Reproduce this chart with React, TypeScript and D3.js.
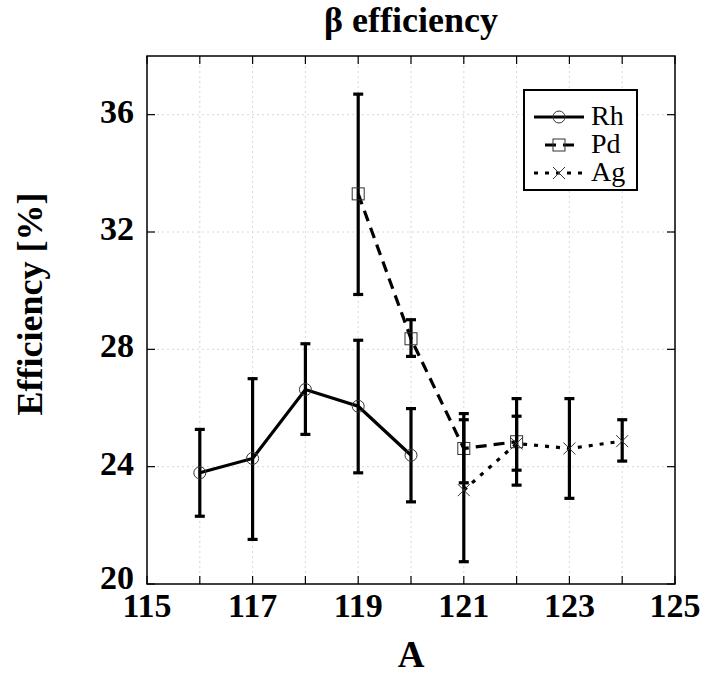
import React from "react";
import { scaleLinear, line } from "d3";

// mass numbers and efficiencies (%) with lower / upper error bar ends
const rhA = [116, 117, 118, 119, 120];
const rhEff = [23.79, 24.28, 26.63, 26.06, 24.39];
const rhLo = [22.31, 21.52, 25.1, 23.79, 22.8];
const rhHi = [25.27, 27.0, 28.19, 28.31, 25.98];

const pdA = [119, 120, 121, 122];
const pdEff = [33.3, 28.36, 24.62, 24.85];
const pdLo = [29.87, 27.76, 23.45, 23.88];
const pdHi = [36.7, 29.01, 25.81, 25.72];

const agA = [121, 122, 123, 124];
const agEff = [23.2, 24.79, 24.62, 24.87];
const agLo = [20.76, 23.37, 22.92, 24.19];
const agHi = [25.6, 26.32, 26.32, 25.6];

const xTicks = [115, 117, 119, 121, 123, 125];
const xMinor = [115, 116, 117, 118, 119, 120, 121, 122, 123, 124, 125];
const yTicks = [20, 24, 28, 32, 36];

const seriesNames = ["Rh", "Pd", "Ag"];

const W = 702, H = 679;
const left = 147, right = 675, top = 56, bottom = 584;
const font = "'Liberation Serif', 'Times New Roman', serif";

export default function App() {
  const x = scaleLinear().domain([115, 125]).range([left, right]);
  const y = scaleLinear().domain([20, 38]).range([bottom, top]);

  const mk = (a: number[], v: number[]) =>
    line<number>().x((d) => x(d)).y((_, i) => y(v[i]))(a) || "";

  const series = [
    { a: rhA, v: rhEff, lo: rhLo, hi: rhHi, dash: "none", marker: "o" },
    { a: pdA, v: pdEff, lo: pdLo, hi: pdHi, dash: "11,7", marker: "s" },
    { a: agA, v: agEff, lo: agLo, hi: agHi, dash: "4,7", marker: "x" },
  ];

  const drawMarker = (m: string, cx: number, cy: number, key: string) => {
    if (m === "o") return <circle key={key} cx={cx} cy={cy} r={6} fill="none" stroke="#333" strokeWidth={1} />;
    if (m === "s") return <rect key={key} x={cx - 6} y={cy - 6} width={12} height={12} fill="none" stroke="#333" strokeWidth={1} />;
    return (
      <path key={key} d={`M${cx - 6},${cy - 6}L${cx + 6},${cy + 6}M${cx - 6},${cy + 6}L${cx + 6},${cy - 6}`} stroke="#333" strokeWidth={1} />
    );
  };

  return (
    <svg width={W} height={H} style={{ position: "absolute", left: 0, top: 0, background: "#fff" }}>
      <rect width={W} height={H} fill="#fff" />
      {/* grid */}
      {xMinor.slice(1, -1).map((t) => (
        <line key={"gx" + t} x1={x(t)} x2={x(t)} y1={top} y2={bottom} stroke="#d8d8d8" strokeWidth={1} strokeDasharray="2,3" />
      ))}
      {yTicks.slice(1).map((t) => (
        <line key={"gy" + t} x1={left} x2={right} y1={y(t)} y2={y(t)} stroke="#d8d8d8" strokeWidth={1} strokeDasharray="2,3" />
      ))}
      {/* ticks */}
      {xMinor.map((t) => (
        <g key={"tx" + t}>
          <line x1={x(t)} x2={x(t)} y1={bottom} y2={bottom - 8} stroke="#000" strokeWidth={1.2} />
          <line x1={x(t)} x2={x(t)} y1={top} y2={top + 8} stroke="#000" strokeWidth={1.2} />
        </g>
      ))}
      {yTicks.map((t) => (
        <g key={"ty" + t}>
          <line x1={left} x2={left + 8} y1={y(t)} y2={y(t)} stroke="#000" strokeWidth={1.2} />
          <line x1={right} x2={right - 8} y1={y(t)} y2={y(t)} stroke="#000" strokeWidth={1.2} />
        </g>
      ))}
      <rect x={left} y={top} width={right - left} height={bottom - top} fill="none" stroke="#000" strokeWidth={1.5} />
      {/* tick labels */}
      {xTicks.map((t) => (
        <text key={"lx" + t} x={x(t)} y={bottom + 33} textAnchor="middle" fontFamily={font} fontWeight="bold" fontSize={34}>{t}</text>
      ))}
      {yTicks.map((t) => (
        <text key={"ly" + t} x={left - 13} y={y(t) + (t === 20 ? 5 : 8)} textAnchor="end" fontFamily={font} fontWeight="bold" fontSize={34}>{t}</text>
      ))}
      {/* series */}
      {series.map((s, si) => (
        <g key={"s" + si}>
          <path d={mk(s.a, s.v)} fill="none" stroke="#000" strokeWidth={3.2} strokeDasharray={s.dash} />
          {s.a.map((a, i) => (
            <g key={i}>
              <line x1={x(a)} x2={x(a)} y1={y(s.lo[i])} y2={y(s.hi[i])} stroke="#000" strokeWidth={3.2} />
              <line x1={x(a) - 5} x2={x(a) + 5} y1={y(s.lo[i])} y2={y(s.lo[i])} stroke="#000" strokeWidth={3.2} />
              <line x1={x(a) - 5} x2={x(a) + 5} y1={y(s.hi[i])} y2={y(s.hi[i])} stroke="#000" strokeWidth={3.2} />
            </g>
          ))}
          {s.a.map((a, i) => drawMarker(s.marker, x(a), y(s.v[i]), "m" + i))}
        </g>
      ))}
      {/* legend */}
      <rect x={524} y={90} width={113} height={100} fill="#fff" stroke="#000" strokeWidth={2} />
      {series.map((s, i) => {
        const ly = 117 + i * 28;
        const x1 = i === 1 ? 545 : 534;
        const x2 = i === 1 ? 580 : 584;
        return (
          <g key={"lg" + i}>
            <line x1={x1} x2={x2} y1={ly} y2={ly} stroke="#000" strokeWidth={3.2} strokeDasharray={i === 1 ? "11,7" : s.dash} />
            {drawMarker(s.marker, 559, ly, "lm" + i)}
            <text x={591} y={ly + 8} fontFamily={font} fontSize={28}>{seriesNames[i]}</text>
          </g>
        );
      })}
      {/* titles */}
      <text x={411} y={32} textAnchor="middle" fontFamily={font} fontWeight="bold" fontSize={36}>β efficiency</text>
      <text x={411} y={667} textAnchor="middle" fontFamily={font} fontWeight="bold" fontSize={37}>A</text>
      <text transform={`translate(42,304) rotate(-90)`} textAnchor="middle" fontFamily={font} fontWeight="bold" fontSize={36}>Efficiency [%]</text>
    </svg>
  );
}
